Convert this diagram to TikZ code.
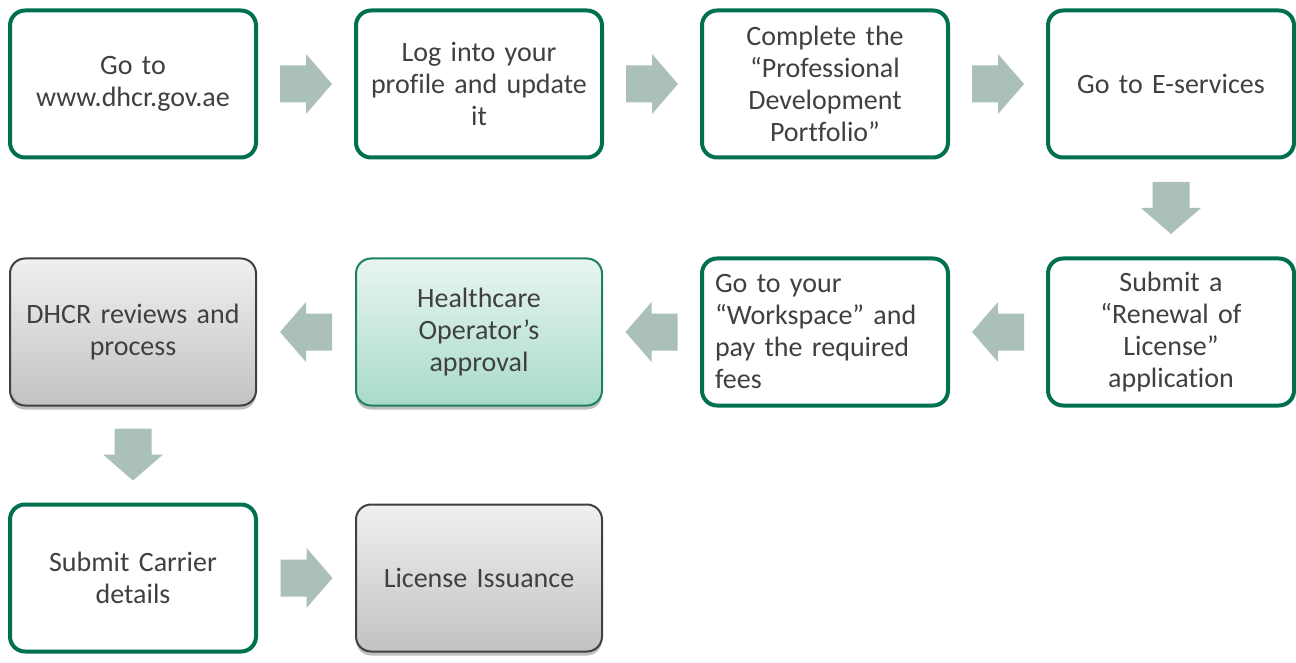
\documentclass[tikz,border=0pt]{standalone}
\usepackage{fontspec}
\setmainfont{Carlito}[Ligatures={NoCommon}, WordSpace=0.8]
\usetikzlibrary{calc,shadows}
\definecolor{boxgreen}{RGB}{0,112,80}
\definecolor{txt}{RGB}{64,64,64}
\definecolor{arrowc}{RGB}{170,192,184}
\definecolor{gtop}{RGB}{240,240,240}
\definecolor{gbot}{RGB}{194,194,194}
\definecolor{ggtop}{RGB}{232,245,240}
\definecolor{ggbot}{RGB}{168,219,200}
\definecolor{gline}{RGB}{64,64,64}
\definecolor{ggline}{RGB}{30,128,95}
\begin{document}
\begin{tikzpicture}[x=1pt,y=1pt,
  base/.style={rounded corners=15pt, minimum width=246pt, minimum height=147pt,
    text width=222pt, align=center, inner sep=0pt, text=txt,
    font=\fontsize{28}{32}\selectfont},
  stepbox/.style={base, draw=boxgreen, line width=4pt, fill=white},
  graybox/.style={base, draw=gline, line width=2pt, top color=gtop, bottom color=gbot,
    drop shadow={shadow xshift=0pt, shadow yshift=-4pt, opacity=0.25, fill=black}},
  greenbox/.style={base, draw=ggline, line width=2pt, top color=ggtop, bottom color=ggbot,
    drop shadow={shadow xshift=0pt, shadow yshift=-4pt, opacity=0.25, fill=black}},
  barrow/.pic={\fill[arrowc] (-26,-18.5) -- (0,-18.5) -- (0,-30) -- (26,0) -- (0,30) -- (0,18.5) -- (-26,18.5) -- cycle;}
]
\useasboundingbox (0,0) rectangle (1296,-663);

\node[stepbox] (b1) at (133,-84) {Go to\\www.dhcr.gov.ae};
\node[stepbox] (b2) at (479,-84) {Log into your\\profile and update\\it};
\node[stepbox] (b3) at (825,-84) {Complete the\\“Professional\\Development\\Portfolio”};
\node[stepbox] (b4) at (1171,-84) {Go to E-services};

\node[stepbox] (b5) at (1171,-332) {Submit a\\“Renewal of\\License”\\application};
\node[stepbox, align=left, text width=220pt] (b6) at (825,-332) {Go to your\\“Workspace” and\\pay the required\\fees};
\node[greenbox] (b7) at (479,-332) {Healthcare\\Operator’s\\approval};
\node[graybox] (b8) at (133,-332) {DHCR reviews and\\process};

\node[stepbox] (b9) at (133,-578) {Submit Carrier\\details};
\node[graybox] (b10) at (479,-578) {License Issuance};

\path ($(b1.east)!0.5!(b2.west)$) pic {barrow};
\path ($(b2.east)!0.5!(b3.west)$) pic {barrow};
\path ($(b3.east)!0.5!(b4.west)$) pic {barrow};
\path ($(b4.south)!0.5!(b5.north)$) pic[rotate=-90] {barrow};
\path ($(b5.west)!0.5!(b6.east)$) pic[rotate=180] {barrow};
\path ($(b6.west)!0.5!(b7.east)$) pic[rotate=180] {barrow};
\path ($(b7.west)!0.5!(b8.east)$) pic[rotate=180] {barrow};
\path ($(b8.south)!0.5!(b9.north)$) pic[rotate=-90] {barrow};
\path ($(b9.east)!0.5!(b10.west)$) pic {barrow};
\end{tikzpicture}
\end{document}
